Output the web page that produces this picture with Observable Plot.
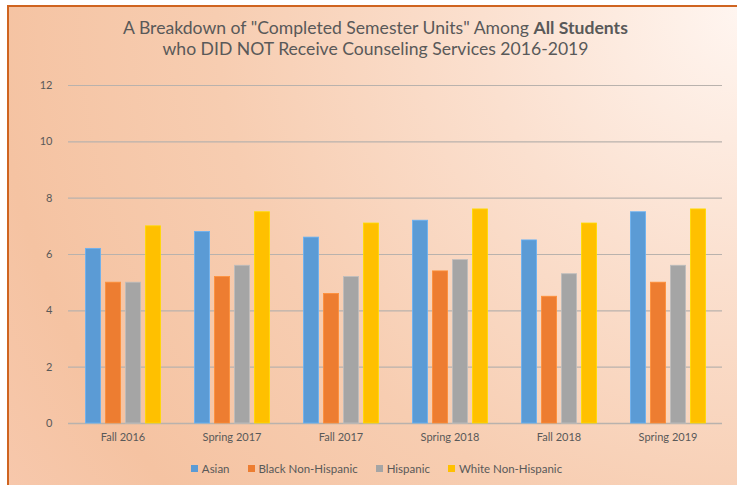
<!DOCTYPE html>
<html>
<head>
<meta charset="utf-8">
<script src="https://cdn.jsdelivr.net/npm/d3@7"></script>
<script src="https://cdn.jsdelivr.net/npm/@observablehq/plot@0.6"></script>
<style>
  html, body { margin: 0; padding: 0; background: #ffffff; }
  #wrap { position: relative; width: 737px; height: 485px; overflow: hidden; font-family: Lato, "Open Sans", sans-serif; }
  #frame { position: absolute; left: 7px; top: 5px; width: 740px; height: 490px;
    border-left: 2px solid #cf6420; border-top: 2px solid #cf6420;
    background: radial-gradient(circle at 100% 0%, #fff6f1 0%, #fbe0cf 30%, #f7cdb1 60%, #f5c3a2 85%, #f7c8ac 100%); }
  #content { position: relative; }
  #title { height: 70px; text-align: center; color: #595959; font-size: 17.6px; line-height: 21px; box-sizing: border-box; padding-left: 14px; }
  #title div:first-child { padding-top: 17px; }
  #chart svg { display: block; background: transparent; }
  #legend { height: 30px; display: flex; justify-content: center; align-items: center; font-size: 11.5px; color: #595959; margin-top: -2px; padding-left: 16px; }
  #legend .item { display: flex; align-items: center; margin: 0 9px; }
  #legend .sw { width: 7px; height: 7px; margin-right: 4px; }
</style>
</head>
<body>
<div id="wrap">
  <div id="frame"></div>
  <div id="content">
    <div id="title"></div>
    <div id="chart"></div>
    <div id="legend"></div>
  </div>
</div>
<script>
const terms = ["Fall 2016", "Spring 2017", "Fall 2017", "Spring 2018", "Fall 2018", "Spring 2019"];
const groups = ["Asian", "Black Non-Hispanic", "Hispanic", "White Non-Hispanic"];
const colors = ["#5b9bd5", "#ed7d31", "#a5a5a5", "#ffc000"];
const asian = [6.2, 6.8, 6.6, 7.2, 6.5, 7.5];
const black = [5.0, 5.2, 4.6, 5.4, 4.5, 5.0];
const hispanic = [5.0, 5.6, 5.2, 5.8, 5.3, 5.6];
const white = [7.0, 7.5, 7.1, 7.6, 7.1, 7.6];
const yTicks = [0, 2, 4, 6, 8, 10, 12];

const series = [asian, black, hispanic, white];
const data = [];
terms.forEach((t, i) => groups.forEach((g, j) => data.push({term: t, group: g, value: series[j][i]})));

document.getElementById("title").innerHTML =
  '<div>A Breakdown of "Completed Semester Units" Among <b>All Students</b></div>' +
  '<div>who DID NOT Receive Counseling Services 2016-2019</div>';

const plot = Plot.plot({
  width: 737,
  height: 385,
  marginTop: 15,
  marginBottom: 32,
  marginLeft: 66,
  marginRight: 14,
  style: {background: "transparent", fontFamily: "Lato, 'Open Sans', sans-serif", fontSize: "11px", color: "#595959"},
  fx: {domain: terms, padding: 0, label: null},
  x: {domain: groups, paddingInner: 0.2, paddingOuter: 0.82, axis: null},
  y: {domain: [0, 12], ticks: yTicks, label: null},
  color: {domain: groups, range: colors},
  facet: {data: data, x: "term"},
  marks: [
    Plot.ruleY(yTicks.filter(d => d > 0), {stroke: "#b9b2ad", strokeWidth: 1.2}),
    Plot.ruleY([0], {stroke: "#b9b2ad", strokeWidth: 1.5}),
    Plot.barY(data, {x: "group", y: "value", fill: "group", stroke: d => d3.color(colors[groups.indexOf(d.group)]).brighter(0.4).formatHex(), strokeWidth: 0.8, insetLeft: 0.4, insetRight: 0.4}),
    Plot.axisY({ticks: yTicks, tickSize: 0, tickPadding: 16, fill: "#595959", fontSize: 11, label: null}),
    Plot.axisFx({anchor: "bottom", tickSize: 0, tickPadding: 10, fill: "#595959", fontSize: 11, label: null})
  ]
});
document.getElementById("chart").appendChild(plot);

const leg = document.getElementById("legend");
groups.forEach((g, j) => {
  const it = document.createElement("div");
  it.className = "item";
  it.innerHTML = `<span class="sw" style="background:${colors[j]}"></span><span>${g}</span>`;
  leg.appendChild(it);
});
</script>
</body>
</html>
